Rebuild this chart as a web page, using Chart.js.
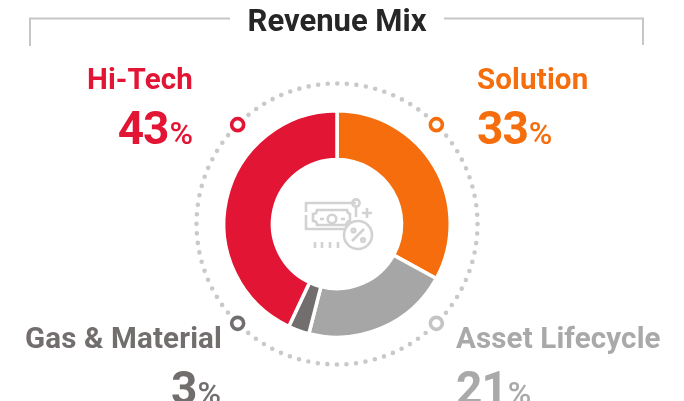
<!DOCTYPE html>
<html>
<head>
<meta charset="utf-8">
<style>
    html, body { margin: 0; padding: 0; background: #fff; }
    #wrap { position: relative; width: 684px; height: 401px; overflow: hidden; font-family: Roboto, sans-serif; }
    canvas { position: absolute; left: 0; top: 0; }
    svg { position: absolute; left: 0; top: 0; }
    .txt { position: absolute; white-space: nowrap; font-weight: 700; line-height: 1; }
    .pct { font-size: 32px; font-weight: 500; margin-left: 1px; letter-spacing: 0; }
    .num { font-size: 46px; letter-spacing: -1px; }
    .name { font-size: 29.5px; letter-spacing: 0.15px; }
    #title { left: 227px; width: 220px; top: 5px; text-align: center; font-size: 31px; font-weight: 700; color: #262626; }
</style>
</head>
<body>
<div id="wrap">
    <canvas id="mix" width="684" height="401"></canvas>
    <svg width="684" height="401" fill="none" stroke="#d2d2d2" stroke-width="2.6">
        <path d="M306 212V203H356M306 215V229H346"/>
        <path d="M317 210H347Q347 213 350 214V221Q347 221 346 225H317Q317 221 313 221V214Q317 214 317 210Z"/>
        <circle cx="332" cy="219" r="4.3"/>
        <path d="M320 219H324M341 219H345"/>
        <circle cx="356" cy="203" r="3.6"/>
        <path d="M356 207V217"/>
        <path d="M362 213H372M367 208V218"/>
        <circle cx="358" cy="235" r="14"/>
        <path d="M352 241L364 229"/>
        <circle cx="353.5" cy="230.5" r="1.8"/>
        <circle cx="363" cy="240" r="1.8"/>
        <path d="M315 242V248M322 242V248M330 242V248M338 242V248"/>
    </svg>
    <div class="txt" id="title"></div>
</div>
<script src="https://cdn.jsdelivr.net/npm/chart.js@4/dist/chart.umd.min.js"></script>
<script>
const chartTitle = 'Revenue Mix';
const categories = ['Solution', 'Asset Lifecycle', 'Gas & Material', 'Hi-Tech'];
const shares = [33, 21, 3, 43];
const sliceColors = ['#f56d0d', '#a6a6a6', '#716e6d', '#e21534'];
const ringColors = ['#f56d0d', '#c4c4c4', '#716e6d', '#e21534'];
const textColors = ['#f56d0d', '#a9a9a9', '#716e6d', '#e21534'];

// label placement per category: [side, name edge, name top, number edge, number top]
const labelSpots = [
    ['left', 477, 65, 477, 105],
    ['left', 456, 324, 456, 365],
    ['right', 222, 324, 221, 365],
    ['right', 193, 65, 193, 105]
];

// dotted ring, bracket and the small ring markers
const decorations = {
    id: 'decorations',
    beforeDatasetsDraw(chart) {
        const c = chart.ctx;
        const arc = chart.getDatasetMeta(0).data[0];
        const cx = arc.x, cy = arc.y;
        const R = 140.5;

        c.save();
        c.strokeStyle = '#c6c6c6';
        c.lineWidth = 2;
        c.beginPath();
        c.moveTo(30, 46); c.lineTo(30, 18.5); c.lineTo(230, 18.5);
        c.moveTo(444, 18.5); c.lineTo(643, 18.5); c.lineTo(643, 45);
        c.stroke();

        const step = 2 * Math.PI * R / 92;
        c.strokeStyle = '#c9c9c9';
        c.lineWidth = 4.6;
        c.lineCap = 'round';
        c.setLineDash([0, step]);
        c.beginPath();
        c.arc(cx, cy, R, 0, 2 * Math.PI);
        c.stroke();
        c.setLineDash([]);

        [-45, 45, 135, 225].forEach((deg, i) => {
            const a = deg * Math.PI / 180;
            const x = cx + R * Math.cos(a), y = cy + R * Math.sin(a);
            c.beginPath();
            c.arc(x, y, 10, 0, 2 * Math.PI);
            c.fillStyle = '#fff';
            c.fill();
            c.beginPath();
            c.arc(x, y, 6, 0, 2 * Math.PI);
            c.lineWidth = 3.6;
            c.strokeStyle = ringColors[i];
            c.stroke();
        });
        c.restore();
    }
};

new Chart(document.getElementById('mix'), {
    type: 'doughnut',
    data: {
        labels: categories,
        datasets: [{ data: shares, backgroundColor: sliceColors, borderColor: '#fff', borderWidth: 3.5 }]
    },
    options: {
        responsive: false,
        animation: false,
        cutout: '57%',
        layout: { padding: { left: 222, right: 232, top: 109, bottom: 62 } },
        plugins: { legend: { display: false }, tooltip: { enabled: false } }
    },
    plugins: [decorations]
});

// Text
document.getElementById('title').textContent = chartTitle;
const wrap = document.getElementById('wrap');
categories.forEach((name, i) => {
    const [side, nameX, nameY, numX, numY] = labelSpots[i];
    const pos = x => side === 'left' ? `left:${x}px` : `right:${684 - x}px`;
    const n = document.createElement('div');
    n.className = 'txt name';
    n.style.cssText = `${pos(nameX)};top:${nameY}px;color:${textColors[i]}`;
    n.textContent = name;
    wrap.appendChild(n);
    const v = document.createElement('div');
    v.className = 'txt num';
    v.style.cssText = `${pos(numX)};top:${numY}px;color:${textColors[i]}`;
    v.innerHTML = `${shares[i]}<span class="pct">%</span>`;
    wrap.appendChild(v);
});
</script>
</body>
</html>
